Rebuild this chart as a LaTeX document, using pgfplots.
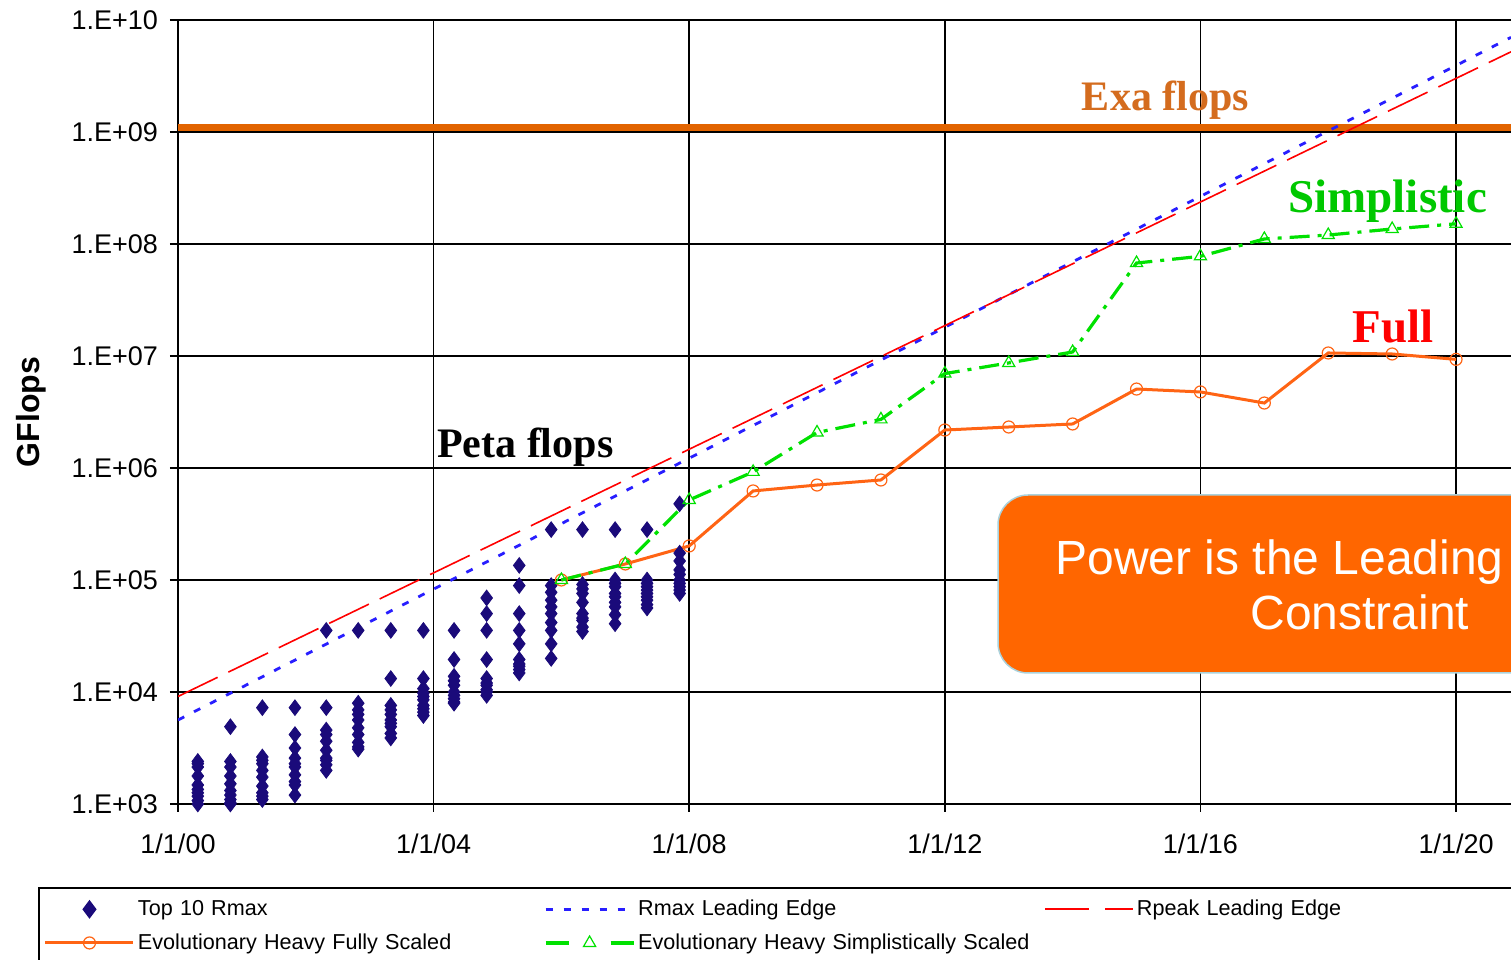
\documentclass[border=0pt]{standalone}
\usepackage{pgfplots}
\pgfplotsset{compat=1.18}
\usepackage{fontspec}
\setmainfont{Liberation Sans}
\newfontfamily\serifb{Liberation Serif}
\definecolor{navy}{RGB}{26,10,122}
\definecolor{rmaxblue}{RGB}{40,30,255}
\definecolor{fullor}{RGB}{255,100,20}
\definecolor{simpgreen}{RGB}{0,225,0}
\definecolor{simptext}{RGB}{0,200,0}
\definecolor{exaline}{RGB}{226,100,0}
\definecolor{exatext}{RGB}{212,108,30}
\definecolor{boxor}{RGB}{255,102,0}
\definecolor{boxedge}{RGB}{170,210,220}
\begin{document}
\begin{tikzpicture}
\path[use as bounding box] (0,0) rectangle (755.5bp,480bp);
\begin{axis}[
  at={(89bp,78bp)}, anchor=south west,
  scale only axis, width=666.5bp, height=392bp,
  xmin=0, xmax=20.86, ymin=1e3, ymax=1e10, ymode=log,
  axis x line*=bottom, axis y line*=left,
  axis line style={black, line width=1bp},
  grid=major, major grid style={black, line width=0.8bp},
  xtick={0,4,8,12,16,20},
  xticklabels={1/1/00,1/1/04,1/1/08,1/1/12,1/1/16,1/1/20},
  ytick={1e3,1e4,1e5,1e6,1e7,1e8,1e9,1e10},
  yticklabels={1.E+03,1.E+04,1.E+05,1.E+06,1.E+07,1.E+08,1.E+09,1.E+10},
  yminorticks=false,
  tick align=outside, major tick length=4bp,
  tick style={black, line width=0.8bp},
  /pgf/number format/assume math mode=true,
  ticklabel style={font=\fontsize{13.5bp}{15bp}\selectfont},
  xticklabel style={yshift=-7.5bp},
  yticklabel style={xshift=-2.5bp},
  ylabel={GFlops},
  ylabel style={font=\fontsize{16bp}{18bp}\selectfont\bfseries, at={(axis description cs:-0.1103,0.5)}, anchor=center},
  legend columns=3,
  legend cell align=left,
  legend image code/.code={\draw[mark repeat=2,mark phase=2,#1] plot coordinates {(0bp,0bp) (22bp,0bp) (44bp,0bp)};},
  legend style={
    at={(-0.10503,-0.10587)}, anchor=north west,
    draw=black, line width=1bp,
    inner xsep=2.5bp, inner ysep=6bp,
    font=\fontsize{10.8bp}{12bp}\selectfont,
    row sep=7.5bp,
    nodes={inner sep=0pt},
    /tikz/every odd column/.append style={column sep=1.5bp},
    /tikz/every even column/.append style={column sep=5.5bp, text width=197.5bp},
  },
]
% Top 10 Rmax
\addplot[only marks, mark=diamond*, mark size=3.9bp, color=navy,
  legend image code/.code={\path[draw=none] (0bp,0bp) -- (44bp,0bp); \draw[only marks] plot coordinates {(22bp,0bp)};}]
  coordinates {
  (0.31,2399) (0.31,2291) (0.31,2138) (0.31,1778) (0.31,1479) (0.31,1349) (0.31,1259) (0.31,1175) (0.31,1072) (0.31,1000)
  (0.82,4898) (0.82,2399) (0.82,2138) (0.82,1778) (0.82,1514) (0.82,1318) (0.82,1202) (0.82,1096) (0.82,1023) (0.82,1000)
  (1.32,7244) (1.32,2630) (1.32,2455) (1.32,2291) (1.32,1995) (1.32,1738) (1.32,1445) (1.32,1259) (1.32,1175) (1.32,1096)
  (1.83,7244) (1.83,4169) (1.83,3162) (1.83,2570) (1.83,2291) (1.83,2138) (1.83,1820) (1.83,1585) (1.83,1479) (1.83,1202)
  (2.32,35481) (2.32,7244) (2.32,4571) (2.32,4169) (2.32,3631) (2.32,3020) (2.32,2570) (2.32,2455) (2.32,2239) (2.32,1995)
  (2.82,35481) (2.82,7943) (2.82,6918) (2.82,6310) (2.82,5623) (2.82,4786) (2.82,4169) (2.82,3548) (2.82,3236) (2.82,3090)
  (3.33,35481) (3.33,13183) (3.33,7586) (3.33,6918) (3.33,6310) (3.33,5623) (3.33,5248) (3.33,4898) (3.33,4266) (3.33,3890)
  (3.84,35481) (3.84,13183) (3.84,10715) (3.84,9772) (3.84,9120) (3.84,8511) (3.84,7586) (3.84,7079) (3.84,6607) (3.84,6166)
  (4.32,35481) (4.32,19498) (4.32,13804) (4.32,12589) (4.32,11482) (4.32,10000) (4.32,9333) (4.32,8710) (4.32,8128) (4.32,7943)
  (4.83,69183) (4.83,50119) (4.83,35481) (4.83,19498) (4.83,13183) (4.83,12023) (4.83,11482) (4.83,10471) (4.83,10000) (4.83,9333)
  (5.34,134896) (5.34,89125) (5.34,50119) (5.34,35481) (5.34,26915) (5.34,19498) (5.34,17783) (5.34,16982) (5.34,15849) (5.34,14791)
  (5.84,281838) (5.84,89125) (5.84,77625) (5.84,66069) (5.84,57544) (5.84,50119) (5.84,41687) (5.84,35481) (5.84,26915) (5.84,19953)
  (6.33,281838) (6.33,91201) (6.33,83176) (6.33,75858) (6.33,63096) (6.33,50119) (6.33,45709) (6.33,43652) (6.33,38019) (6.33,34674)
  (6.84,281838) (6.84,100000) (6.84,93325) (6.84,87096) (6.84,75858) (6.84,70795) (6.84,63096) (6.84,57544) (6.84,48978) (6.84,40738)
  (7.34,281838) (7.34,100000) (7.34,93325) (7.34,87096) (7.34,81283) (7.34,75858) (7.34,70795) (7.34,66069) (7.34,60256) (7.34,56234)
  (7.85,478630) (7.85,173780) (7.85,147911) (7.85,123027) (7.85,112202) (7.85,100000) (7.85,93325) (7.85,87096) (7.85,81283) (7.85,75858)
  };
\addlegendentry{Top 10 Rmax}
% Exa flops level
\addplot[exaline, line width=3.5bp, forget plot] coordinates {(0,1.1e9) (20.86,1.1e9)};
% Rmax leading edge
\addplot[rmaxblue, line width=1.4bp, dash pattern=on 3.5bp off 5.5bp] coordinates {(0,5623) (20.86,7.0e9)};
\addlegendentry{Rmax Leading Edge}
% Rpeak leading edge
\addplot[red, line width=0.8bp, dash pattern=on 22bp off 6bp,
  legend image code/.code={\draw[red, line width=0.9bp, dash pattern=on 22bp off 8bp] (0bp,0bp) -- (44bp,0bp);}] coordinates {(0,9120) (20.86,5.2e9)};
\addlegendentry{Rpeak Leading Edge}
% Fully scaled
\addplot[fullor, line width=1.5bp, mark=o, mark size=3bp, mark options={solid, line width=0.6bp}] coordinates {
  (6,1.000e5) (7,1.390e5) (8,2.014e5) (9,6.237e5) (10,7.047e5) (11,7.816e5) (12,2.183e6) (13,2.323e6)
  (14,2.472e6) (15,5.070e6) (16,4.775e6) (17,3.802e6) (18,1.064e7) (19,1.042e7) (20,9.33e6)};
\addlegendentry{Evolutionary Heavy Fully Scaled}
% Simplistically scaled
\addplot[simpgreen, line width=1.6bp, dash pattern=on 10bp off 4bp on 2bp off 4bp, mark=triangle, mark size=3.5bp, mark options={solid, line width=0.6bp},
  legend image code/.code={\draw[dash pattern=on 11.5bp off 21bp] (0bp,0bp) -- (44bp,0bp); \draw[only marks] plot coordinates {(22bp,0bp)};}] coordinates {
  (6,1.0e5) (7,1.39e5) (8,5.18e5) (9,9.23e5) (10,2.075e6) (11,2.716e6) (12,6.966e6) (13,8.670e6)
  (14,1.086e7) (15,6.761e7) (16,7.762e7) (17,1.109e8) (18,1.202e8) (19,1.361e8) (20,1.514e8)};
\addlegendentry{Evolutionary Heavy Simplistically Scaled}
% annotations
\node[anchor=base west, inner sep=0pt, font={\fontsize{21bp}{24bp}\serifb\bfseries}, black] at (axis cs:4.05,1.253e6) {Peta flops};
\node[anchor=base west, inner sep=0pt, font={\fontsize{21bp}{24bp}\serifb\bfseries}, exatext] at (axis cs:14.14,1.57e9) {Exa flops};
\node[anchor=base west, inner sep=0pt, font={\fontsize{23.5bp}{26bp}\serifb\bfseries}, simptext] at (axis cs:17.37,1.93e8) {Simplistic};
\node[anchor=base west, inner sep=0pt, font={\fontsize{23.5bp}{26bp}\serifb\bfseries}, red] at (axis cs:18.37,1.33e7) {Full};
\end{axis}
% call-out box
\draw[rounded corners=15bp, fill=boxor, draw=boxedge, line width=0.75bp] (499bp,143.5bp) rectangle (800bp,232.5bp);
\node[anchor=base west, white, inner sep=0pt, font=\fontsize{24bp}{28bp}\selectfont] at (527.5bp,192.5bp) {Power is the Leading};
\node[anchor=base west, white, inner sep=0pt, font=\fontsize{24bp}{28bp}\selectfont] at (625bp,165bp) {Constraint};
\end{tikzpicture}
\end{document}
